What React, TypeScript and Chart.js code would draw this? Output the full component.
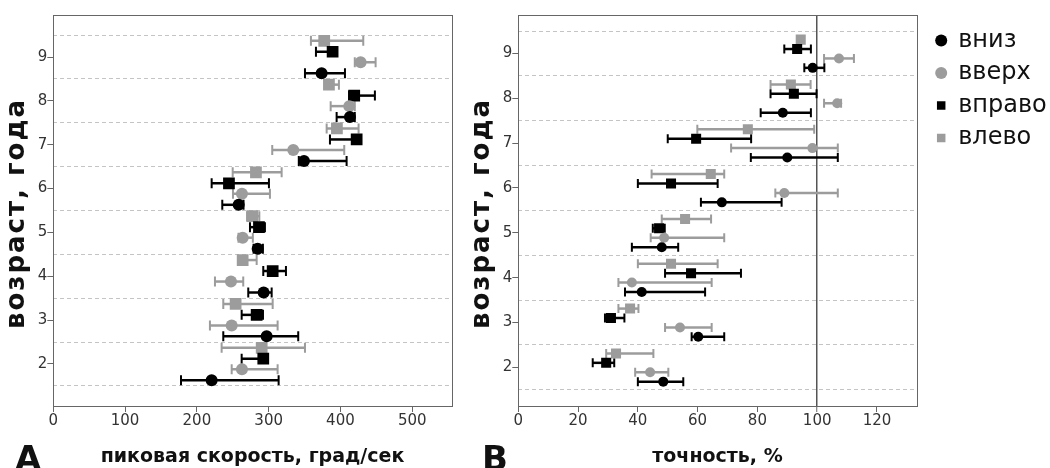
import React, { useEffect, useRef } from 'react';
import { Chart, registerables } from 'chart.js';

Chart.register(...registerables);
Chart.defaults.font.family = '"DejaVu Sans", sans-serif';

// ---------- data ----------
const ages = [2, 3, 4, 5, 6, 7, 8, 9];
const seriesNames = ['вниз', 'вверх', 'вправо', 'влево'];
const ageTicks = [2, 3, 4, 5, 6, 7, 8, 9];
const ageHalfLines = [1.5, 2.5, 3.5, 4.5, 5.5, 6.5, 7.5, 8.5, 9.5];
const speedTicks = [0, 100, 200, 300, 400, 500];
const accuracyTicks = [0, 20, 40, 60, 80, 100, 120];

// Panel A: peak speed, deg/s (median, low, high) per age 2..9
const speedDownMed = [220.6, 297.2, 293.0, 284.7, 258.2, 349.2, 413.2, 373.8];
const speedDownLo = [177.9, 236.8, 271.6, 279.0, 235.4, 342.0, 394.7, 350.6];
const speedDownHi = [313.9, 341.2, 304.2, 292.0, 265.0, 408.6, 420.0, 406.3];

const speedUpMed = [262.8, 248.5, 247.5, 263.8, 262.8, 334.3, 412.3, 428.1];
const speedUpLo = [248.5, 218.2, 225.2, 258.0, 250.3, 305.0, 386.4, 420.0];
const speedUpHi = [312.5, 312.5, 264.6, 278.0, 301.8, 405.3, 420.0, 449.0];

const speedRightMed = [292.5, 283.3, 305.6, 286.5, 244.7, 422.6, 419.2, 389.1];
const speedRightLo = [262.4, 262.4, 292.5, 274.0, 220.6, 385.4, 412.0, 365.9];
const speedRightHi = [299.0, 292.1, 324.1, 294.8, 300.4, 428.0, 448.0, 395.0];

const speedLeftMed = [290.3, 254.0, 263.8, 277.2, 282.3, 395.1, 384.0, 377.4];
const speedLeftLo = [234.5, 236.8, 258.0, 270.0, 249.9, 380.8, 378.0, 358.9];
const speedLeftHi = [350.6, 305.6, 283.3, 287.0, 318.1, 425.3, 397.9, 431.8];

// Panel B: accuracy, %
const accDownMed = [48.5, 60.2, 41.3, 48.0, 68.1, 90.0, 88.5, 98.5];
const accDownLo = [40.0, 58.0, 35.7, 38.0, 61.1, 77.8, 81.1, 95.7];
const accDownHi = [55.2, 68.9, 62.5, 53.5, 88.1, 106.9, 97.9, 102.4];

const accUpMed = [44.1, 54.1, 38.0, 48.8, 89.0, 98.4, 106.7, 107.3];
const accUpLo = [39.1, 49.1, 33.5, 44.3, 86.0, 71.2, 102.3, 102.3];
const accUpHi = [50.2, 64.7, 64.7, 68.9, 106.9, 106.9, 108.0, 112.3];

const accRightMed = [29.4, 31.0, 57.8, 47.1, 51.1, 59.5, 92.2, 93.3];
const accRightLo = [24.9, 29.0, 49.1, 45.0, 40.0, 50.0, 84.4, 89.0];
const accRightHi = [32.1, 35.5, 74.5, 49.0, 66.7, 77.9, 99.8, 97.9];

const accLeftMed = [32.7, 37.4, 51.1, 55.8, 64.4, 76.8, 91.2, 94.5];
const accLeftLo = [29.4, 33.5, 40.0, 48.0, 44.6, 59.9, 84.4, 93.5];
const accLeftHi = [45.2, 40.2, 66.7, 64.5, 68.9, 99.0, 97.8, 95.5];

// ---------- styles ----------
const BLACK = '#000000';
const GRAY = '#9c9c9c';
const AXIS = '#666666';
const GRID = '#c4c4c4';
const TICK_TEXT = '#333333';
const TITLE_TEXT = '#111111';
const seriesColors = [BLACK, GRAY, BLACK, GRAY];
const seriesShapes = ['circle', 'circle', 'rect', 'rect'];
const offsetsA = [-0.37, -0.12, 0.12, 0.37];
const offsetsB = [-0.32, -0.11, 0.1, 0.31];
const Y_AXIS_W = 53.3;
const X_AXIS_H = 62;
const TOP_PAD = 15;
const LEGEND_W = 120;

function makeDatasets(meds: number[][], los: number[][], his: number[][], offsets: number[], rCircle: number, rRect: number) {
  return seriesNames.map((name, s) => ({
    label: name,
    data: ages.map((a, i) => ({ x: meds[s][i], y: a + offsets[s] })),
    lo: los[s],
    hi: his[s],
    barColor: seriesColors[s],
    pointStyle: seriesShapes[s],
    pointRadius: seriesShapes[s] === 'rect' ? rRect : rCircle,
    pointHoverRadius: seriesShapes[s] === 'rect' ? rRect : rCircle,
    pointBorderWidth: 0,
    backgroundColor: seriesColors[s],
    borderColor: seriesColors[s],
    pointBackgroundColor: seriesColors[s],
    pointBorderColor: seriesColors[s],
    showLine: false,
  }));
}

function errorBarPlugin(width: number, capHalf: number) {
  return {
    id: 'errorBars',
    beforeDatasetsDraw(chart: any) {
      const { ctx } = chart;
      const xs = chart.scales.x;
      const ys = chart.scales.y;
      chart.data.datasets.forEach((ds: any) => {
        ctx.save();
        ctx.strokeStyle = ds.barColor;
        ds.data.forEach((p: any, i: number) => {
          const y = ys.getPixelForValue(p.y);
          const x1 = xs.getPixelForValue(ds.lo[i]);
          const x2 = xs.getPixelForValue(ds.hi[i]);
          ctx.lineWidth = width;
          ctx.beginPath();
          ctx.moveTo(x1, y);
          ctx.lineTo(x2, y);
          ctx.stroke();
          ctx.lineWidth = 2;
          ctx.beginPath();
          ctx.moveTo(x1, y - capHalf);
          ctx.lineTo(x1, y + capHalf);
          ctx.moveTo(x2, y - capHalf);
          ctx.lineTo(x2, y + capHalf);
          ctx.stroke();
        });
        ctx.restore();
      });
    },
  };
}

const framePlugin = {
  id: 'frame',
  beforeDatasetsDraw(chart: any) {
    const { ctx, chartArea } = chart;
    const l = Math.round(chartArea.left);
    const t = Math.round(chartArea.top);
    const r = Math.round(chartArea.right);
    const b = Math.round(chartArea.bottom);
    ctx.save();
    ctx.strokeStyle = AXIS;
    ctx.lineWidth = 1;
    ctx.strokeRect(l + 0.5, t + 0.5, r - l, b - t);
    ctx.restore();
  },
};

function yTitleAfterFit(scale: any) {
  scale.width = Y_AXIS_W;
  if (!scale.__spaced) {
    const orig = scale.drawTitle;
    scale.drawTitle = function () {
      const c = this.ctx;
      c.save();
      c.letterSpacing = '2px';
      c.translate(0, 3);
      orig.call(this);
      c.restore();
    };
    scale.__spaced = true;
  }
}

function xScale(min: number, max: number, tickValues: number[], title: string, refLine: number | null) {
  return {
    type: 'linear',
    position: 'bottom',
    min,
    max,
    afterBuildTicks: (axis: any) => {
      axis.ticks = tickValues.map((v) => ({ value: v }));
    },
    afterFit: (axis: any) => {
      axis.height = X_AXIS_H;
    },
    ticks: { autoSkip: false, padding: 0, maxRotation: 0, color: TICK_TEXT, font: { size: 15 } },
    grid: {
      drawOnChartArea: refLine !== null,
      drawTicks: true,
      color: (c: any) => (c.tick && c.tick.value === refLine ? '#555555' : 'rgba(0,0,0,0)'),
      lineWidth: (c: any) => (c.tick && c.tick.value === refLine ? 1.5 : 1),
      tickColor: AXIS,
      tickWidth: 1,
      tickLength: 6,
    },
    border: { display: false },
    title: {
      display: true,
      text: title,
      color: TITLE_TEXT,
      font: { size: 19, weight: 'bold', lineHeight: 1 },
      padding: { top: 0, bottom: 1 },
    },
  };
}

function yScale(min: number, max: number) {
  const tickList = [...ageHalfLines, ...ageTicks].sort((a, b) => a - b);
  return {
    type: 'linear',
    position: 'left',
    min,
    max,
    afterBuildTicks: (axis: any) => {
      axis.ticks = tickList.map((v) => ({ value: v }));
    },
    afterFit: yTitleAfterFit,
    ticks: {
      autoSkip: false,
      padding: 0,
      color: TICK_TEXT,
      font: { size: 15 },
      callback: (v: any) => (Number.isInteger(v) ? String(v) : ''),
    },
    grid: {
      drawOnChartArea: true,
      drawTicks: true,
      color: (c: any) => (c.tick && !Number.isInteger(c.tick.value) ? GRID : 'rgba(0,0,0,0)'),
      tickColor: (c: any) => (c.tick && Number.isInteger(c.tick.value) ? AXIS : 'rgba(0,0,0,0)'),
      tickWidth: 1,
      tickLength: 6,
      tickBorderDash: [],
      lineWidth: 1,
    },
    border: { display: false, dash: [4, 3] },
    title: {
      display: true,
      text: 'возраст, года',
      color: TITLE_TEXT,
      font: { size: 26, weight: 'bold', lineHeight: 1 },
      padding: { top: 4, bottom: 0 },
    },
  };
}

export default function App() {
  const refA = useRef<HTMLCanvasElement>(null);
  const refB = useRef<HTMLCanvasElement>(null);

  useEffect(() => {
    const chartA = new Chart(refA.current as HTMLCanvasElement, {
      type: 'scatter',
      data: {
        datasets: makeDatasets(
          [speedDownMed, speedUpMed, speedRightMed, speedLeftMed],
          [speedDownLo, speedUpLo, speedRightLo, speedLeftLo],
          [speedDownHi, speedUpHi, speedRightHi, speedLeftHi],
          offsetsA,
          6,
          8.3
        ) as any,
      },
      options: {
        responsive: false,
        animation: false,
        events: [],
        layout: { padding: { top: TOP_PAD, right: 460 - 451.7, bottom: 0, left: 0 } },
        plugins: { legend: { display: false }, tooltip: { enabled: false } },
        scales: {
          x: xScale(0, 555, speedTicks, 'пиковая скорость, град/сек', null) as any,
          y: yScale(1.042, 9.958) as any,
        },
      },
      plugins: [framePlugin, errorBarPlugin(2.5, 5)],
    });

    const chartB = new Chart(refB.current as HTMLCanvasElement, {
      type: 'scatter',
      data: {
        datasets: makeDatasets(
          [accDownMed, accUpMed, accRightMed, accLeftMed],
          [accDownLo, accUpLo, accRightLo, accLeftLo],
          [accDownHi, accUpHi, accRightHi, accLeftHi],
          offsetsB,
          5,
          7.1
        ) as any,
      },
      options: {
        responsive: false,
        animation: false,
        events: [],
        layout: { padding: { top: TOP_PAD, right: 600 - 451.7 - 11 - LEGEND_W, bottom: 0, left: 0 } },
        plugins: {
          tooltip: { enabled: false },
          legend: {
            display: true,
            position: 'right',
            align: 'start',
            maxWidth: LEGEND_W,
            title: { display: true, text: '', font: { size: 5, lineHeight: 1 }, padding: 0 },
            labels: {
              usePointStyle: true,
              boxWidth: 10,
              boxHeight: 8.5,
              padding: 8.5,
              color: TITLE_TEXT,
              font: { size: 24, lineHeight: 1 },
            },
          },
        },
        scales: {
          x: xScale(0, 133.3, accuracyTicks, 'точность, %', 100) as any,
          y: yScale(1.137, 9.859) as any,
          gap: {
            type: 'linear',
            position: 'right',
            display: false,
            afterFit: (axis: any) => {
              axis.width = 11;
            },
          } as any,
        },
      },
      plugins: [framePlugin, errorBarPlugin(2.5, 4.5)],
    });

    return () => {
      chartA.destroy();
      chartB.destroy();
    };
  }, []);

  const letterStyle: React.CSSProperties = {
    position: 'absolute',
    top: 441,
    fontFamily: '"DejaVu Sans", sans-serif',
    fontWeight: 'bold',
    fontSize: 34,
    lineHeight: '34px',
    color: '#111',
  };

  return (
    <div
      style={{
        position: 'fixed',
        left: 0,
        top: 0,
        width: 1050,
        height: 468,
        overflow: 'hidden',
        background: '#ffffff',
      }}
    >
      <canvas ref={refA} width={460} height={468} style={{ position: 'absolute', left: 0, top: 0 }} />
      <canvas ref={refB} width={600} height={468} style={{ position: 'absolute', left: 465, top: 0 }} />
      <div style={{ ...letterStyle, left: 15 }}>A</div>
      <div style={{ ...letterStyle, left: 482 }}>B</div>
    </div>
  );
}
